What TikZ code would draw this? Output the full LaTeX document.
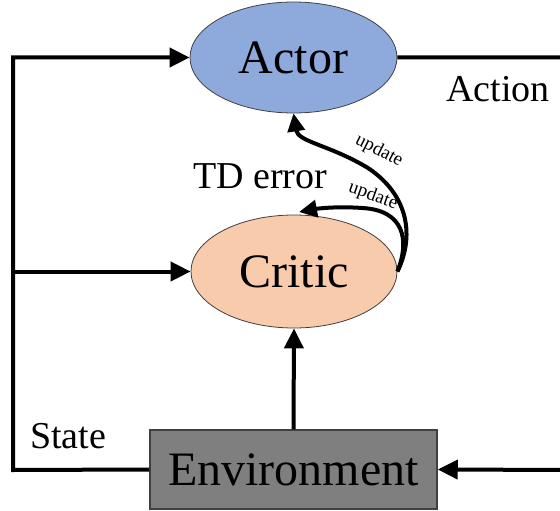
\documentclass[tikz,border=0pt]{standalone}
\usepackage{fontspec}
\setmainfont{Liberation Serif}
\usetikzlibrary{shapes.geometric,arrows.meta}
\definecolor{actorblue}{RGB}{142,169,219}
\definecolor{criticpeach}{RGB}{248,203,173}
\definecolor{envgray}{RGB}{127,127,127}
\definecolor{envborder}{RGB}{64,64,64}
\tikzset{
  bigtext/.style={font=\fontsize{48}{56}\selectfont},
  lbltext/.style={font=\fontsize{38}{44}\selectfont, inner sep=0pt},
  updtext/.style={font=\fontsize{19}{22}\selectfont, inner sep=0pt},
  ellnode/.style={ellipse, draw=black!75, line width=0.8pt, inner sep=0pt, bigtext},
  conn/.style={line width=4pt},
  arr/.style={line width=4pt, -{Triangle[length=20pt,width=19pt]}},
  updarr/.style={line width=4pt, -{Triangle[length=18pt,width=17pt]}}
}
\begin{document}
\begin{tikzpicture}[x=1pt,y=-1pt]
\useasboundingbox (0,0) rectangle (560,511);
\node[ellnode, fill=actorblue, minimum width=207pt, minimum height=111pt] (actor) at (293.5,57.5) {Actor};
\node[ellnode, fill=criticpeach, minimum width=206pt, minimum height=113pt] (critic) at (294,271.5) {Critic};
\node[rectangle, draw=envborder, line width=1.5pt, fill=envgray, minimum width=287pt, minimum height=79pt, inner sep=0pt, bigtext] (env) at (293.5,469.5) {Environment};
% labels
\node[lbltext, anchor=base] (action) at (498,102) {Action};
\node[lbltext, anchor=base] (state) at (68,448) {State};
\node[lbltext, anchor=base] (tderr) at (260,188) {TD error};
% coordinates
\coordinate (lt) at (13,57.5);
\coordinate (lb) at (13,470);
\coordinate (lm) at (13,271.5);
\coordinate (rt) at (570,57.5);
\coordinate (rb) at (570,470);
\coordinate (tdtip) at (299,212);
% connectors
\draw[arr] (env.west) -- (lb) -- (lt) -- (actor.west);
\draw[arr] (lm) -- (critic.west);
\draw[arr] (env.north) -- (critic.south);
\draw[arr] (actor.east) -- (rt) -- (rb) -- (env.east);
% update curves
\draw[updarr] (critic.east) .. controls (414,238) and (410,196) .. (368,168) .. controls (330,145) and (298,142) .. (actor.south);
\draw[updarr] (critic.east) .. controls (410,240) and (404,210) .. (362,208) .. controls (335,206) and (315,209) .. (tdtip);
\node[updtext, rotate=-27] (upd1) at (379,151) {update};
\node[updtext, rotate=-20] (upd2) at (373,196) {update};
\end{tikzpicture}
\end{document}
